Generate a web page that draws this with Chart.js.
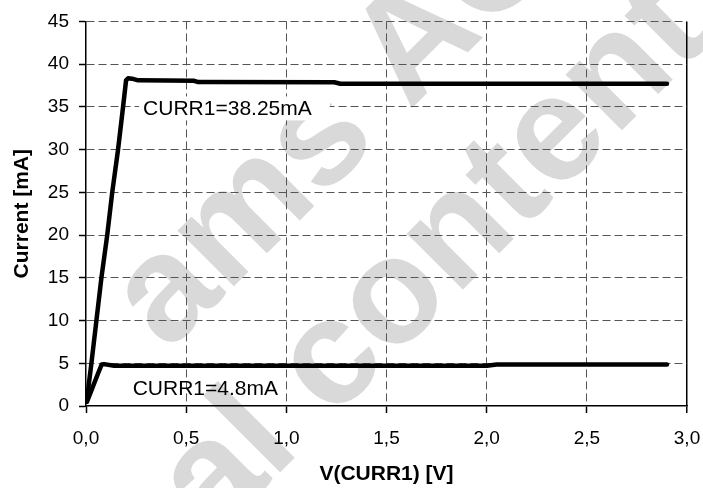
<!DOCTYPE html>
<html>
<head>
<meta charset="utf-8">
<script src="https://cdn.jsdelivr.net/npm/chart.js@4/dist/chart.umd.min.js"></script>
<style>
  html, body { margin: 0; padding: 0; background: #ffffff; }
  #wrap { width: 703px; height: 488px; }
</style>
</head>
<body>
<div id="wrap"><canvas id="c" width="703" height="488"></canvas></div>
<script>
// ---- data ----
const xTickValues = [0, 0.5, 1.0, 1.5, 2.0, 2.5, 3.0];
const yTickValues = [0, 5, 10, 15, 20, 25, 30, 35, 40, 45];

const highVolt = [0.003, 0.027, 0.052, 0.077, 0.106, 0.131, 0.160, 0.185, 0.200, 0.210, 0.230, 0.260, 0.540, 0.560, 1.240, 1.270, 2.900];
const highCurr = [0.5, 5.0, 10.0, 15.0, 20.0, 25.0, 30.0, 35.0, 38.1, 38.35, 38.3, 38.1, 38.05, 37.9, 37.88, 37.7, 37.7];

const lowVolt = [0.005, 0.030, 0.060, 0.078, 0.090, 0.140, 2.000, 2.050, 2.900];
const lowCurr = [0.5, 2.0, 3.8, 4.85, 4.9, 4.72, 4.72, 4.85, 4.85];

const seriesLabels = ['CURR1=38.25mA', 'CURR1=4.8mA'];
const xTitle = 'V(CURR1) [V]';
const yTitle = 'Current [mA]';
const watermarkLines = ['ams AG', 'Technical content still valid'];

// ---- helpers ----
const toPoints = (xs, ys) => xs.map((x, i) => ({ x: x, y: ys[i] }));
const FONT = "'Liberation Sans', Arial, Helvetica, sans-serif";

const bgAndWatermark = {
  id: 'bgAndWatermark',
  beforeDraw(chart) {
    const ctx = chart.ctx;
    ctx.save();
    ctx.fillStyle = '#ffffff';
    ctx.fillRect(0, 0, chart.width, chart.height);
    ctx.fillStyle = '#d9d9d9';
    ctx.font = 'bold 150px ' + FONT;
    ctx.textBaseline = 'alphabetic';
    ctx.rotate(-Math.PI / 4);
    ctx.fillText(watermarkLines[0], -131, 368);
    const pre = 'Technical ';
    const w = ctx.measureText(pre).width;
    ctx.fillText(watermarkLines[1], -63 - w, 532);
    ctx.restore();
  }
};

const curveLabels = {
  id: 'curveLabels',
  beforeDatasetsDraw(chart) {
    const ctx = chart.ctx;
    const xs = chart.scales.x, ys = chart.scales.y;
    const anchors = [[0.285, 34.0], [0.233, 1.29]];
    ctx.save();
    ctx.font = '21px ' + FONT;
    ctx.textBaseline = 'alphabetic';
    ctx.textAlign = 'left';
    seriesLabels.forEach((t, i) => {
      const px = xs.getPixelForValue(anchors[i][0]);
      const py = ys.getPixelForValue(anchors[i][1]);
      const w = ctx.measureText(t).width;
      if (i === 0) {
        ctx.fillStyle = '#ffffff';
        ctx.fillRect(px - 4, py - 19, w + 22, 24);
      }
      ctx.fillStyle = '#000000';
      ctx.fillText(t, px, py);
    });
    ctx.restore();
  }
};

const gridDash = [8, 4];

new Chart(document.getElementById('c'), {
  type: 'scatter',
  data: {
    datasets: [
      { label: seriesLabels[0], data: toPoints(highVolt, highCurr), showLine: true, borderColor: '#000', borderWidth: 4.5, pointRadius: 0, tension: 0, borderJoinStyle: 'round', borderCapStyle: 'round' },
      { label: seriesLabels[1], data: toPoints(lowVolt, lowCurr), showLine: true, borderColor: '#000', borderWidth: 4.5, pointRadius: 0, tension: 0, borderJoinStyle: 'round', borderCapStyle: 'round' }
    ]
  },
  options: {
    responsive: false,
    animation: false,
    layout: { padding: { left: 0, top: 21, right: 16, bottom: 0 } },
    plugins: { legend: { display: false }, tooltip: { enabled: false } },
    scales: {
      x: {
        type: 'linear',
        min: 0, max: 3,
        afterBuildTicks: (s) => { s.ticks = xTickValues.map(v => ({ value: v })); },
        afterFit: (s) => { s.height = 82; s.paddingRight = 16; s.paddingLeft = 0; },
        ticks: {
          color: '#000',
          font: { family: FONT, size: 19 },
          padding: 14,
          callback: (v) => Number(v).toFixed(1).replace('.', ',')
        },
        grid: {
          color: (c) => (c.tick && c.tick.value === 3) ? '#000' : (c.tick && c.tick.value === 0 ? 'rgba(0,0,0,0)' : '#555'),
          lineWidth: (c) => (c.tick && c.tick.value === 3) ? 1.5 : 1,
          tickColor: '#000',
          tickLength: 7,
          tickWidth: 1.5,
          tickBorderDash: []
        },
        border: {
          color: '#000', width: 1.5,
          dash: (c) => (c.tick && c.tick.value === 3) ? [] : gridDash
        },
        title: {
          display: true, text: xTitle, color: '#000',
          font: { family: FONT, size: 21, weight: 'bold' },
          padding: { top: 0, bottom: 1 }
        }
      },
      y: {
        type: 'linear',
        min: 0, max: 45,
        afterBuildTicks: (s) => { s.ticks = yTickValues.map(v => ({ value: v })); },
        afterFit: (s) => { s.width = 86; },
        ticks: {
          color: '#000',
          font: { family: FONT, size: 19 },
          padding: 10
        },
        grid: {
          color: (c) => (c.tick && c.tick.value === 0) ? 'rgba(0,0,0,0)' : '#555',
          lineWidth: 1,
          tickColor: '#000',
          tickLength: 7,
          tickWidth: 1.5,
          tickBorderDash: []
        },
        border: { color: '#000', width: 1.5, dash: gridDash },
        title: {
          display: true, text: yTitle, color: '#000',
          font: { family: FONT, size: 21, weight: 'bold' },
          padding: { top: 10, bottom: 0 }
        }
      }
    }
  },
  plugins: [bgAndWatermark, curveLabels]
});
</script>
</body>
</html>
